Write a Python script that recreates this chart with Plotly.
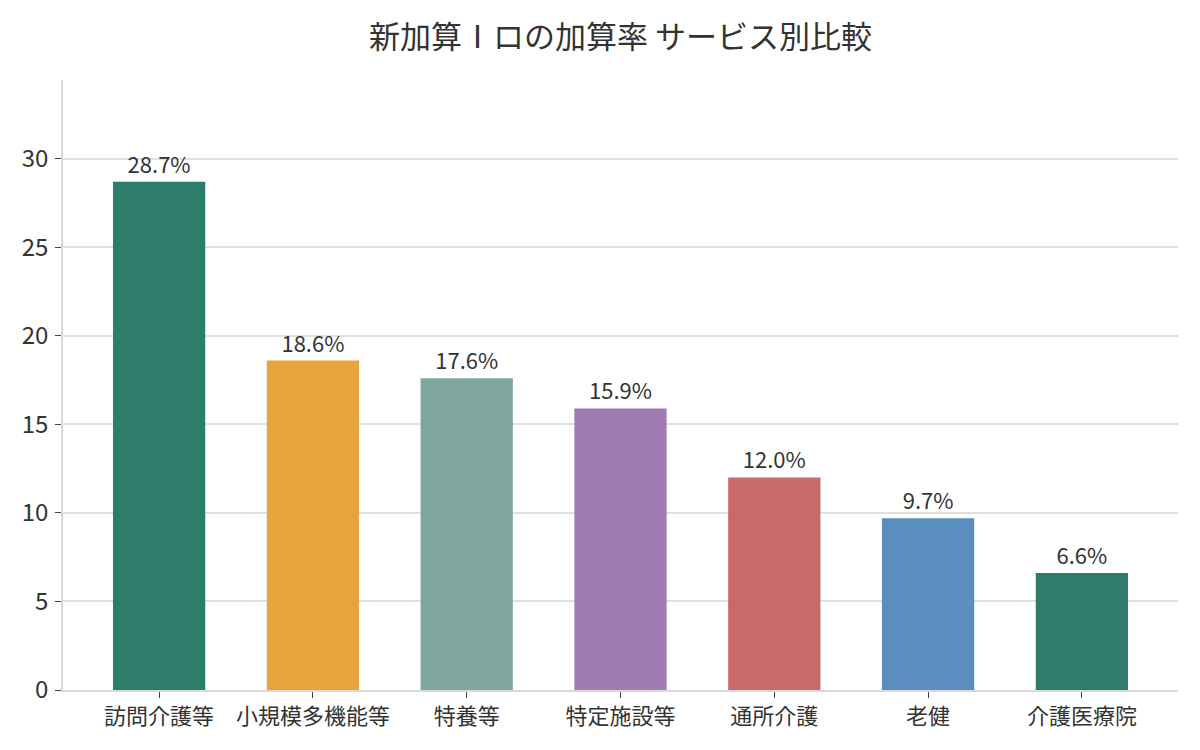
import plotly.graph_objects as go

categories = ["訪問介護等", "小規模多機能等", "特養等", "特定施設等", "通所介護", "老健", "介護医療院"]
rates = [28.7, 18.6, 17.6, 15.9, 12.0, 9.7, 6.6]
colors = ["#2E7D6B", "#E8A43C", "#7FA7A0", "#A07CB4", "#C86A6A", "#5B8DBE", "#2E7D6B"]
labels = [f"{v:.1f}%" for v in rates]

FONT = "Noto Sans CJK JP"

fig = go.Figure(go.Bar(
    x=categories, y=rates, marker_color=colors, marker_line_width=0,
    width=0.6, text=labels, textposition="outside", cliponaxis=False,
    textfont=dict(size=22, color="#333333", family=FONT),
))

fig.update_layout(
    width=1200, height=750,
    margin=dict(l=63, r=22, t=80, b=60),
    paper_bgcolor="white", plot_bgcolor="white",
    font=dict(family=FONT, color="#333333", size=20),
    title=dict(text="新加算Ⅰロの加算率 サービス別比較", x=0.5, xref="paper", y=0.95, yanchor="middle",
               font=dict(size=31, color="#333333", family=FONT)),
    showlegend=False,
    bargap=0.4,
)
fig.update_xaxes(
    range=[-0.625, 6.625], showline=True, linecolor="#d9d9d9", linewidth=1.5,
    ticks="outside", ticklen=6, tickcolor="#444444", showgrid=False,
    tickfont=dict(size=22, color="#333333"),
)
fig.update_yaxes(
    range=[0, 34.44], showline=True, linecolor="#d9d9d9", linewidth=1.5,
    ticks="outside", ticklen=6, tickcolor="#444444", showgrid=True,
    gridcolor="#e0e0e0", gridwidth=1.5, zeroline=False, dtick=5,
    tickfont=dict(size=24, color="#333333"), ticklabelstandoff=2,
)

fig.write_html("out.html")
